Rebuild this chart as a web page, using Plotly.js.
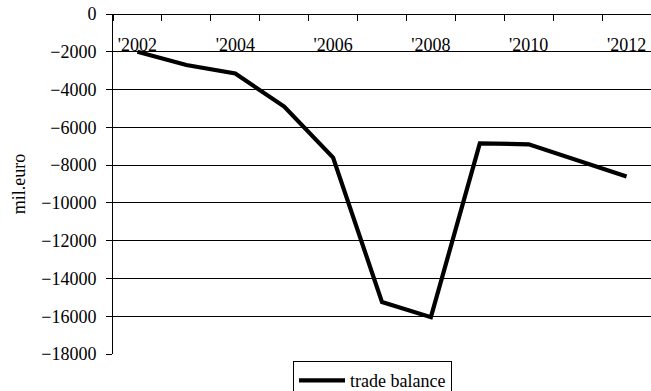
<!DOCTYPE html>
<html>
<head>
<meta charset="utf-8">
<script src="https://cdn.plot.ly/plotly-3.0.1.min.js"></script>
<style>
  html, body { margin: 0; padding: 0; background: #fff; overflow: hidden; }
  #chart { width: 651px; height: 410px; }
</style>
</head>
<body>
<div id="chart"></div>
<script>
// Annual trade balance, million euro
const years = [2002, 2003, 2004, 2005, 2006, 2007, 2008, 2009, 2010, 2011, 2012];
const tradeBalance = [-2000, -2700, -3150, -4900, -7600, -15250, -16050, -6850, -6900, -7750, -8600];
const yearTickVals = [2002, 2004, 2006, 2008, 2010, 2012];
const yearTickText = ["'2002", "'2004", "'2006", "'2008", "'2010", "'2012"];
const gridVals = [-16000, -14000, -12000, -10000, -8000, -6000, -4000, -2000];
const seriesName = 'trade balance';
const yTitle = 'mil.euro';

const serif = 'Liberation Serif';

const trace = {
  x: years,
  y: tradeBalance,
  type: 'scatter',
  mode: 'lines',
  name: seriesName,
  line: { color: '#000', width: 4.2 },
  showlegend: true
};

// The figure runs a little past the visible frame so the legend box
// sits low without squeezing the plot area.
const layout = {
  width: 651,
  height: 410,
  margin: { l: 113, r: 0, t: 14, b: 56 },
  paper_bgcolor: '#fff',
  plot_bgcolor: '#fff',
  font: { family: serif, size: 18, color: '#000' },
  showlegend: true,
  legend: {
    x: 0.3346, y: -0.021, xanchor: 'left', yanchor: 'top',
    bordercolor: '#000', borderwidth: 1, bgcolor: '#fff',
    font: { family: serif, size: 18, color: '#000' },
    itemwidth: 46, tracegroupgap: 0
  },
  xaxis: {
    type: 'linear',
    range: [2001.5, 2012.5],
    anchor: 'free',
    position: 1,
    side: 'bottom',
    tickmode: 'array',
    tickvals: yearTickVals,
    ticktext: yearTickText,
    ticks: '',
    ticklabelstandoff: 14,
    showline: true, linecolor: '#000', linewidth: 1,
    showgrid: false, zeroline: false,
    minor: { tick0: 2001.5, dtick: 1, ticks: 'outside', ticklen: 6, tickcolor: '#000', tickwidth: 1, showgrid: false },
    tickfont: { family: serif, size: 18, color: '#000' },
    fixedrange: true
  },
  yaxis: {
    range: [-18000, 0],
    tick0: 0, dtick: 2000,
    tickformat: 'd',
    ticks: 'outside', ticklen: 6, tickcolor: '#000', tickwidth: 1,
    showline: true, linecolor: '#000', linewidth: 1,
    showgrid: false,
    minor: { tickmode: 'array', tickvals: gridVals, ticks: '', showgrid: true, gridcolor: '#000', gridwidth: 1 },
    zeroline: false,
    ticklabelstandoff: 6,
    tickfont: { family: serif, size: 18, color: '#000' },
    title: { text: yTitle, standoff: 10, font: { family: serif, size: 18, color: '#000' } },
    fixedrange: true
  }
};

Plotly.newPlot('chart', [trace], layout, { displayModeBar: false, staticPlot: true });
</script>
</body>
</html>
